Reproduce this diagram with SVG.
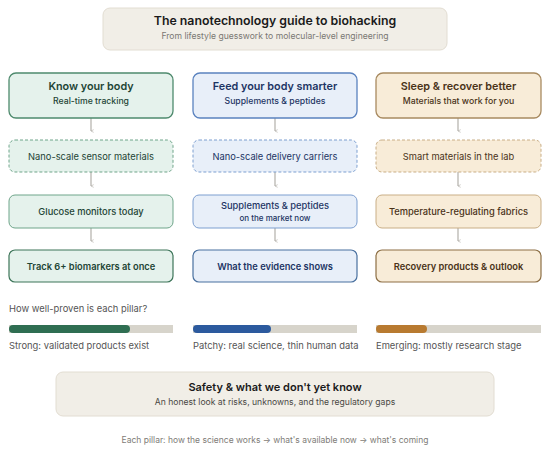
<svg xmlns="http://www.w3.org/2000/svg" width="550" height="451" viewBox="0 0 550 451">
<defs>
<style>
text{font-family:Inter,"Liberation Sans",sans-serif;text-anchor:middle}
.h{font-size:10.8px;font-weight:600}
.s{font-size:8.7px;font-weight:500}
.n{font-size:9.3px;font-weight:400}
.m{font-size:9.3px;font-weight:500}
.b{font-size:9.3px;font-weight:600}
.g .box{fill:#e5f2ec;stroke:#6fa58a}
.g .top{stroke:#4e8a6d;stroke-width:1.3}
.g .bot{stroke:#3d7559;stroke-width:1.2}
.g text{fill:#1e4535}
.bl .box{fill:#e8eff9;stroke:#7d9fd0}
.bl .top{stroke:#5a82bf;stroke-width:1.3}
.bl .bot{stroke:#49709f;stroke-width:1.2}
.bl text{fill:#1d3564}
.t .box{fill:#f8ecd8;stroke:#c9ae86}
.t .top{stroke:#a88a60;stroke-width:1.3}
.t .bot{stroke:#8d6f45;stroke-width:1.2}
.t text{fill:#4a3318}
.dash{stroke-dasharray:3 2}
.conn{stroke:#b3b0aa;stroke-width:1.2;fill:none}
.lbl{font-size:9.4px;fill:#555;text-anchor:start}
.track{fill:#d7d4cb}
</style>
<marker id="ah" viewBox="0 0 6 6" refX="3" refY="5" markerWidth="4" markerHeight="4" orient="auto-start-reverse" markerUnits="userSpaceOnUse">
<path d="M1,1 L3,5 L5,1" fill="none" stroke="#b3b0aa" stroke-width="1"/>
</marker>
</defs>
<rect width="550" height="451" fill="#ffffff"/>

<g id="title">
<rect x="103" y="8" width="344" height="42" rx="7" fill="#f1eee7" stroke="#e2ddd2"/>
<text x="275" y="25" style="font-size:12.3px;font-weight:600;fill:#1a1a1a">The nanotechnology guide to biohacking</text>
<text x="275" y="39" style="font-size:8.6px;fill:#7a7873">From lifestyle guesswork to molecular-level engineering</text>
</g>

<g id="connectors">
<line class="conn" x1="91" y1="118" x2="91" y2="131" marker-end="url(#ah)"/>
<line class="conn" x1="91" y1="172" x2="91" y2="186" marker-end="url(#ah)"/>
<line class="conn" x1="91" y1="228" x2="91" y2="241" marker-end="url(#ah)"/>
<line class="conn" x1="275" y1="118" x2="275" y2="131" marker-end="url(#ah)"/>
<line class="conn" x1="275" y1="172" x2="275" y2="186" marker-end="url(#ah)"/>
<line class="conn" x1="275" y1="228" x2="275" y2="241" marker-end="url(#ah)"/>
<line class="conn" x1="458" y1="118" x2="458" y2="131" marker-end="url(#ah)"/>
<line class="conn" x1="458" y1="172" x2="458" y2="186" marker-end="url(#ah)"/>
<line class="conn" x1="458" y1="228" x2="458" y2="241" marker-end="url(#ah)"/>
</g>

<g class="g">
<g id="know-body"><rect class="box top" x="9" y="73" width="164" height="45" rx="7"/><text class="h" x="91" y="90">Know your body</text><text class="s" x="91" y="104">Real-time tracking</text></g>
<g id="sensor-materials"><rect class="box dash" x="9" y="140" width="164" height="32" rx="6"/><text class="n" x="91" y="159.5">Nano-scale sensor materials</text></g>
<g id="glucose"><rect class="box" x="9" y="195" width="164" height="33" rx="6"/><text class="m" x="91" y="214.5">Glucose monitors today</text></g>
<g id="track-biomarkers"><rect class="box bot" x="9" y="250" width="164" height="32" rx="6"/><text class="b" x="91" y="269.5">Track 6+ biomarkers at once</text></g>
</g>

<g class="bl">
<g id="feed-body"><rect class="box top" x="193" y="73" width="164" height="45" rx="7"/><text class="h" x="275" y="90">Feed your body smarter</text><text class="s" x="275" y="104">Supplements &amp; peptides</text></g>
<g id="delivery-carriers"><rect class="box dash" x="193" y="140" width="164" height="32" rx="6"/><text class="n" x="275" y="159.5">Nano-scale delivery carriers</text></g>
<g id="supplements-market"><rect class="box" x="193" y="195" width="164" height="33" rx="6"/><text class="m" x="275" y="209">Supplements &amp; peptides</text><text x="275" y="221" style="font-size:8px;font-weight:500">on the market now</text></g>
<g id="evidence"><rect class="box bot" x="193" y="250" width="164" height="32" rx="6"/><text class="b" x="275" y="269.5">What the evidence shows</text></g>
</g>

<g class="t">
<g id="sleep-recover"><rect class="box top" x="376" y="73" width="165" height="45" rx="7"/><text class="h" x="458.5" y="90">Sleep &amp; recover better</text><text class="s" x="458.5" y="104">Materials that work for you</text></g>
<g id="smart-materials"><rect class="box dash" x="376" y="140" width="165" height="32" rx="6"/><text class="n" x="458.5" y="159.5">Smart materials in the lab</text></g>
<g id="fabrics"><rect class="box" x="376" y="195" width="165" height="33" rx="6"/><text class="m" x="458.5" y="214.5">Temperature-regulating fabrics</text></g>
<g id="recovery-products"><rect class="box bot" x="376" y="250" width="165" height="32" rx="6"/><text class="b" x="458.5" y="269.5">Recovery products &amp; outlook</text></g>
</g>

<g id="evidence-bars">
<text class="lbl" x="9" y="312">How well-proven is each pillar?</text>
<rect class="track" x="9" y="325" width="164" height="8"/>
<rect x="9" y="325" width="121" height="8" rx="4" fill="#2f6e52"/>
<text class="lbl" x="9" y="349">Strong: validated products exist</text>
<rect class="track" x="193" y="325" width="164" height="8"/>
<rect x="193" y="325" width="78" height="8" rx="4" fill="#2c5a9e"/>
<text class="lbl" x="193" y="349">Patchy: real science, thin human data</text>
<rect class="track" x="376" y="325" width="165" height="8"/>
<rect x="376" y="325" width="51" height="8" rx="4" fill="#b87a30"/>
<text class="lbl" x="376" y="349">Emerging: mostly research stage</text>
</g>

<g id="safety">
<rect x="56" y="372" width="438" height="44" rx="7" fill="#f1eee7" stroke="#e2ddd2"/>
<text x="275" y="391" style="font-size:11px;font-weight:600;fill:#1a1a1a">Safety &amp; what we don't yet know</text>
<text x="275" y="405" style="font-size:8.6px;fill:#4a4844">An honest look at risks, unknowns, and the regulatory gaps</text>
</g>

<text id="footer" x="275" y="443" style="font-size:8.5px;fill:#7e7c77">Each pillar: how the science works → what's available now → what's coming</text>
</svg>
